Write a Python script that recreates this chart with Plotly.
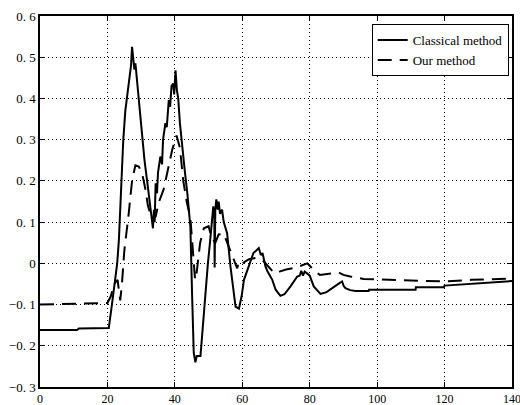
import plotly.graph_objects as go

# Classical method (solid)
classical_x = [0, 11, 11.5, 20.4, 21.4, 22.3, 22.9, 23.4, 24.1, 24.7, 25.3, 25.9, 26.6, 27.0, 27.3, 27.7,
               28.0, 28.3, 28.7, 29.3, 30.3, 31.0, 31.8, 32.6, 33.0, 33.5, 33.8, 34.0, 34.3, 34.7, 35.0,
               35.7, 36.2, 36.5, 37.2, 37.6, 38.2, 38.6, 39.0, 39.5, 39.8, 40.2, 40.6, 41.0, 41.5, 42.2,
               43.0, 43.7, 44.6, 45.1, 45.6, 46.1, 46.5, 47.6, 48.3, 49.1, 49.8, 50.4, 51.0, 51.4, 51.7,
               51.8, 52.0, 52.3, 52.7, 53.0, 53.4, 54.0, 54.5, 55.5, 56.5, 57.2, 58.0, 59.0, 59.8, 60.5,
               61.3, 62.2, 63.3, 64.0, 64.9, 65.5, 66.0, 66.9, 67.5, 68.9, 69.9, 71.3, 72.5, 74.3, 76.3,
               77.0, 77.5, 78.0, 78.5, 79.3, 80.0, 81.2, 83.2, 85.0, 87.2, 88.5, 89.6, 90.1, 90.6, 92.0,
               93.6, 97.5, 97.6, 111.4, 111.5, 119.8, 120.0, 128.6, 134.0, 140]
classical_y = [-0.162, -0.162, -0.158, -0.157, -0.096, -0.03, 0.0, 0.057, 0.198, 0.299, 0.37, 0.412, 0.46, 0.48, 0.525, 0.48,
               0.47, 0.485, 0.45, 0.40, 0.30, 0.25, 0.198, 0.138, 0.12, 0.085, 0.13, 0.10, 0.194, 0.17, 0.22,
               0.259, 0.24, 0.30, 0.34, 0.33, 0.396, 0.38, 0.43, 0.436, 0.41, 0.468, 0.42, 0.40, 0.34, 0.291,
               0.22, 0.17, 0.089, -0.072, -0.217, -0.24, -0.225, -0.225, -0.15, -0.072, 0.0, 0.049, 0.10, 0.138, 0.12,
               -0.01, 0.13, 0.155, 0.13, 0.15, 0.12, 0.13, 0.10, 0.073, -0.008, -0.06, -0.105, -0.11, -0.08, -0.04,
               -0.02, 0.0, 0.025, 0.03, 0.037, 0.02, 0.025, -0.008, -0.02, -0.04, -0.064, -0.079, -0.075, -0.056, -0.032,
               -0.03, -0.018, -0.03, -0.02, -0.025, -0.03, -0.056, -0.074, -0.07, -0.056, -0.05, -0.044, -0.055, -0.06, -0.065,
               -0.067, -0.067, -0.064, -0.064, -0.058, -0.058, -0.054, -0.05, -0.046, -0.043]

# Our method (dashed)
our_x = [0, 20, 21, 22, 23, 23.8, 24.3, 25, 26.3, 27.3, 28.3, 29.3, 30.3, 31.3, 32, 33.3, 34.3, 35.2,
         36.7, 38.2, 39.2, 40.5, 41.5, 42.5, 43.5, 44.6, 45.6, 46, 46.5, 47.5, 48.6, 50, 51, 52, 53,
         54.5, 56, 57, 58, 58.5, 59, 60, 62, 64, 66, 68, 69.5, 71, 73, 76, 78, 79.3, 80.5, 81.7, 83,
         86, 88.6, 90, 92, 96, 100, 104, 110, 120, 128, 140]
our_y = [-0.1, -0.096, -0.08, -0.05, -0.04, -0.09, -0.05, 0.03, 0.12, 0.2, 0.238, 0.235, 0.218, 0.178, 0.14, 0.105, 0.113, 0.147,
         0.18, 0.234, 0.275, 0.31, 0.28, 0.2, 0.15, 0.11, 0.0, -0.04, -0.02, 0.05, 0.085, 0.09, 0.06, 0.05, 0.07,
         0.072, 0.04, 0.02, 0.0, -0.012, 0.005, 0.0, 0.01, 0.013, 0.008, -0.01, -0.024, -0.02, -0.015, -0.01, -0.005, 0.0, -0.01, -0.02, -0.028,
         -0.025, -0.022, -0.028, -0.032, -0.038, -0.039, -0.041, -0.042, -0.044, -0.04, -0.037]

x_ticks = [0, 20, 40, 60, 80, 100, 120, 140]
x_ticktext = ["0", "20", "40", "60", "80", "100", "120", "140"]
y_ticks = [0.6, 0.5, 0.4, 0.3, 0.2, 0.1, 0, -0.1, -0.2, -0.3]
y_ticktext = ["0.\u00a06", "0.\u00a05", "0.\u00a04", "0.\u00a03", "0.\u00a02", "0.\u00a01", "0",
              "\u22120.\u00a01", "\u22120.\u00a02", "\u22120.\u00a03"]

FONT = "Liberation Serif"

fig = go.Figure()
fig.add_trace(go.Scatter(x=classical_x, y=classical_y, mode="lines", name="Classical method",
                         line=dict(color="black", width=2)))
fig.add_trace(go.Scatter(x=our_x, y=our_y, mode="lines", name="Our method",
                         line=dict(color="black", width=2, dash="14px,8px")))

axis_common = dict(showline=True, linecolor="black", linewidth=1.5, mirror="ticks",
                   ticks="inside", ticklen=5, tickcolor="black", tickwidth=1,
                   showgrid=True, gridcolor="black", gridwidth=1, griddash="1px,3px",
                   zeroline=False, ticklabeloverflow="allow", automargin=False)

fig.update_xaxes(range=[0, 140], tickmode="array", tickvals=x_ticks, ticktext=x_ticktext,
                 tickfont=dict(family=FONT, size=12, color="black"), **axis_common)
fig.update_yaxes(range=[-0.3, 0.6], tickmode="array", tickvals=y_ticks, ticktext=y_ticktext,
                 tickfont=dict(family=FONT, size=13, color="black"), **axis_common)

fig.update_layout(
    width=520, height=405,
    margin=dict(l=40, r=8, t=16, b=18, autoexpand=False),
    paper_bgcolor="white", plot_bgcolor="white",
    font=dict(family=FONT, color="black"),
    showlegend=True,
    legend=dict(x=0.993, y=0.978, xanchor="right", yanchor="top",
                bgcolor="white", bordercolor="black", borderwidth=1,
                font=dict(family=FONT, size=13, color="black"),
                tracegroupgap=0, itemwidth=30),
)

fig.write_html("out.html")
